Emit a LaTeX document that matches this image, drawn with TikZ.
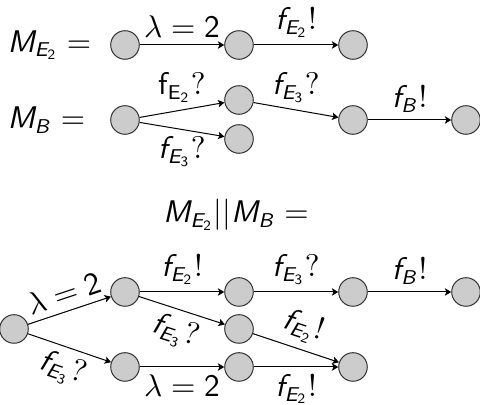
\documentclass[tikz,border=0pt]{standalone}
\usetikzlibrary{positioning,arrows.meta}
\DeclareMathAlphabet{\mathsfit}{OT1}{cmss}{m}{sl}
\newcommand{\sigE}[2]{\mathsfit{f}_{\mathsfit{E}_\mathsf{#1}}\mathsf{#2}}
\newcommand{\sigB}[1]{\mathsfit{f}_{\mathsfit{B}}\mathsf{#1}}
\newcommand{\lamtwo}{\lambda = \mathsf{2}}
\tikzset{
  loc/.style={circle,draw=black!80,fill=black!20,line width=0.35pt,inner sep=0pt,minimum size=10pt},
  trans/.style={-{Stealth[length=2.2pt,width=2.6pt,inset=0.5pt]},line width=0.35pt},
  act/.style={inner sep=2.5pt},
  eq/.style={inner sep=0pt,anchor=west},
}

\begin{document}
\begin{tikzpicture}[x=0.35pt,y=-0.35pt,font=\fontsize{10.6}{12.5}\selectfont]
  \useasboundingbox (0,0) rectangle (480,405);
  % M_E2
  \node[eq] (me) at (7,45) {$\mathsfit{M}_{\mathsfit{E}_\mathsf{2}} =$};
  \node[loc] (e1) at (125,45) {};
  \node[loc] (e2) at (239,45) {};
  \node[loc] (e3) at (353,45) {};
  \draw[trans] (e1) -- node[act,above] {$\lamtwo$} (e2);
  \draw[trans] (e2) -- node[act,above] {$\sigE{2}{!}$} (e3);
  % M_B
  \node[eq] (mb) at (7,120) {$\mathsfit{M}_{\mathsfit{B}} =$};
  \node[loc] (b1) at (125,120) {};
  \node[loc] (b2) at (239,100) {};
  \node[loc] (b3) at (239,139) {};
  \node[loc] (b4) at (353,120) {};
  \node[loc] (b5) at (466,120) {};
  \draw[trans] (b1) -- node[act,above] {$\mathsf{f}_{\mathsf{E}_\mathsf{2}}\mathsf{?}$} (b2);
  \draw[trans] (b1) -- node[act,below] {$\sigE{3}{?}$} (b3);
  \draw[trans] (b2) -- node[act,above] {$\sigE{3}{?}$} (b4);
  \draw[trans] (b4) -- node[act,above] {$\sigB{!}$} (b5);
  % product
  \node (prod) at (236,215) {$\mathsfit{M}_{\mathsfit{E}_\mathsf{2}}||\mathsfit{M}_{\mathsfit{B}} =$};
  \node[loc] (p0) at (14,329) {};
  \node[loc] (p1) at (125,292) {};
  \node[loc] (p2) at (239,292) {};
  \node[loc] (p3) at (353,292) {};
  \node[loc] (p4) at (466,292) {};
  \node[loc] (p5) at (239,329) {};
  \node[loc] (p6) at (125,367) {};
  \node[loc] (p7) at (239,367) {};
  \node[loc] (p8) at (353,367) {};
  \draw[trans] (p0) -- node[act,above,sloped] {$\lamtwo$} (p1);
  \draw[trans] (p0) -- node[act,below,sloped] {$\sigE{3}{?}$} (p6);
  \draw[trans] (p1) -- node[act,above] {$\sigE{2}{!}$} (p2);
  \draw[trans] (p1) -- node[act,below,sloped] {$\sigE{3}{?}$} (p5);
  \draw[trans] (p2) -- node[act,above] {$\sigE{3}{?}$} (p3);
  \draw[trans] (p3) -- node[act,above] {$\sigB{!}$} (p4);
  \draw[trans] (p5) -- node[act,above,sloped] {$\sigE{2}{!}$} (p8);
  \draw[trans] (p6) -- node[act,below] {$\lamtwo$} (p7);
  \draw[trans] (p7) -- node[act,below] {$\sigE{2}{!}$} (p8);
\end{tikzpicture}
\end{document}
